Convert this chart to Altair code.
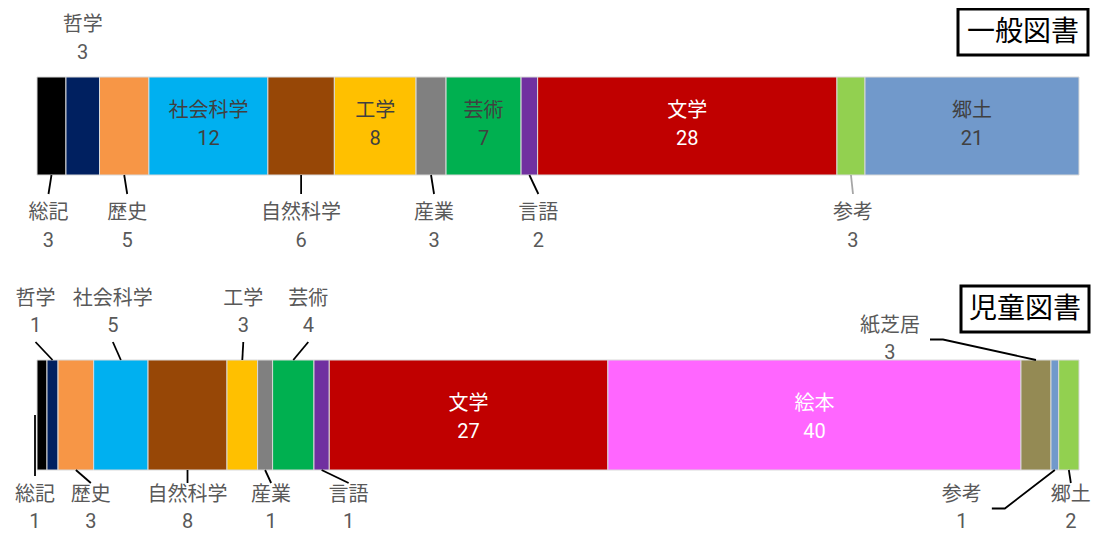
import altair as alt
import pandas as pd

# ---------------- data ----------------
categories_general = ["総記", "哲学", "歴史", "社会科学", "自然科学", "工学", "産業",
                      "芸術", "言語", "文学", "参考", "郷土"]
share_general = [2.78, 3.22, 4.74, 11.42, 6.38, 7.84, 2.88, 7.20, 1.59, 28.73, 2.69, 20.54]
label_general = [3, 3, 5, 12, 6, 8, 3, 7, 2, 28, 3, 21]

categories_children = ["総記", "哲学", "歴史", "社会科学", "自然科学", "工学", "産業",
                       "芸術", "言語", "文学", "絵本", "紙芝居", "参考", "郷土"]
share_children = [0.96, 1.06, 3.42, 5.22, 7.58, 2.94, 1.44, 3.97, 1.47, 26.75, 39.66,
                  2.88, 0.74, 1.95]
label_children = [1, 1, 3, 5, 8, 3, 1, 4, 1, 27, 40, 3, 1, 2]

titles = ["一般図書", "児童図書"]

# ---------------- styles / layout ----------------
colors_general = ["#000000", "#002060", "#F79646", "#00B0F0", "#974706", "#FFC000",
                  "#808080", "#00B050", "#7030A0", "#C00000", "#92D050", "#7199CB"]
colors_children = ["#000000", "#002060", "#F79646", "#00B0F0", "#974706", "#FFC000",
                   "#808080", "#00B050", "#7030A0", "#C00000", "#FF66FF", "#948A54",
                   "#7199CB", "#92D050"]

place_general = ["below", "above", "below", "in", "below", "in", "below", "in",
                 "below", "in", "below", "in"]
dx_general = [-3, 0, 3, 0, 0, 0, 3, 0, 9, 0, 2, 0]
dy_general = [0] * 12
leader_general = ["edge", "none", "edge", "none", "edge", "none", "edge", "none",
                  "edge", "none", "edge", "none"]
linecol_general = ["#000000"] * 10 + ["#A6A6A6", "#000000"]

place_children = ["below", "above", "below", "above", "below", "above", "below",
                  "above", "below", "in", "in", "above", "below", "below"]
dx_children = [-7, -17, 15, -8, 0, 1, 6, 15, 27, 0, 0, -146, -93, 2]
dy_children = [0, 0, 0, 0, 0, 0, 0, 0, 0, 0, 0, 27, 0, 0]
leader_children = ["mid", "edge", "edge", "edge", "edge", "edge", "edge", "edge",
                   "edge", "none", "none", "side", "side", "edge"]
linecol_children = ["#000000"] * 14

light_text = ["文学", "絵本"]

PLOT_W = 1042
PLOT_H = 526
PX = PLOT_W / 100.0  # pixels per percentage unit

rows = [
    dict(title=titles[0], cats=categories_general, share=share_general, labels=label_general,
         colors=colors_general, place=place_general, dx=dx_general, dy=dy_general,
         leader=leader_general, linecol=linecol_general,
         top=77, bottom=175, in_y=111, above_y=25, below_y=213, gap=28, lead=19),
    dict(title=titles[1], cats=categories_children, share=share_children, labels=label_children,
         colors=colors_children, place=place_children, dx=dx_children, dy=dy_children,
         leader=leader_children, linecol=linecol_children,
         top=360, bottom=470, in_y=404, above_y=299, below_y=495, gap=27, lead=12),
]

bars, texts, lines = [], [], []
for r in rows:
    total = sum(r["share"])
    gap = r["gap"]
    acc = 0.0
    for i, c in enumerate(r["cats"]):
        w = r["share"][i] / total * 100
        x0, x1 = acc, acc + w
        acc = x1
        cx = (x0 + x1) / 2
        bars.append(dict(row=r["title"], cat=c, x0=x0, x1=x1, y0=r["top"], y1=r["bottom"],
                         color=r["colors"][i]))
        place = r["place"][i]
        lx = cx + r["dx"][i] / PX
        if place == "in":
            ny = r["in_y"]
            tcol = "#FFFFFF" if c in light_text else "#404040"
            g = 28
        elif place == "above":
            ny = r["above_y"] + r["dy"][i]
            tcol = "#595959"
            g = gap
        else:
            ny = r["below_y"] + r["dy"][i]
            tcol = "#595959"
            g = gap
        texts.append(dict(x=lx, y=ny, t=c, color=tcol, kind="name"))
        texts.append(dict(x=lx, y=ny + g, t=str(r["labels"][i]), color=tcol, kind="num"))

        kind = r["leader"][i]
        lid = r["title"] + c
        lc = r["linecol"][i]
        edge = r["top"] if place == "above" else r["bottom"]
        if kind == "edge":
            end_y = (ny + g + 16) if place == "above" else (ny - r["lead"])
            pts = [(cx, edge), (lx, end_y)]
        elif kind == "mid":
            pts = [(lx, (r["top"] + r["bottom"]) / 2), (lx, ny - 19)]
        elif kind == "side":
            half = len(c) * 10
            my = ny + g / 2
            pts = [(cx, edge), (lx + (half + 23) / PX, my), (lx + (half + 10) / PX, my)]
        else:
            pts = []
        for k, (px_, py_) in enumerate(pts):
            lines.append(dict(id=lid, seq=k, x=px_, y=py_, color=lc))

bars_df = pd.DataFrame(bars)
texts_df = pd.DataFrame(texts)
lines_df = pd.DataFrame(lines)

xs = alt.Scale(domain=[0, 100], nice=False, zero=False)
ys = alt.Scale(domain=[8, 8 + PLOT_H], reverse=True, nice=False, zero=False)
FONT = "Noto Sans CJK JP"
NUM_FONT = "Roboto"

bar_layer = alt.Chart(bars_df).mark_rect(stroke="#D9D9D9", strokeWidth=1).encode(
    x=alt.X("x0:Q", scale=xs, axis=None),
    x2="x1:Q",
    y=alt.Y("y0:Q", scale=ys, axis=None),
    y2="y1:Q",
    color=alt.Color("color:N", scale=None),
)

line_layer = alt.Chart(lines_df).mark_line(strokeWidth=1.8).encode(
    x=alt.X("x:Q", scale=xs, axis=None),
    y=alt.Y("y:Q", scale=ys, axis=None),
    detail="id:N",
    order="seq:Q",
    color=alt.Color("color:N", scale=None),
)

name_layer = alt.Chart(texts_df).transform_filter(
    alt.datum.kind == "name"
).mark_text(font=FONT, fontSize=20, align="center", baseline="middle").encode(
    x=alt.X("x:Q", scale=xs, axis=None),
    y=alt.Y("y:Q", scale=ys, axis=None),
    text="t:N",
    color=alt.Color("color:N", scale=None),
)

num_layer = alt.Chart(texts_df).transform_filter(
    alt.datum.kind == "num"
).mark_text(font=NUM_FONT, fontSize=20, align="center", baseline="middle").encode(
    x=alt.X("x:Q", scale=xs, axis=None),
    y=alt.Y("y:Q", scale=ys, axis=None),
    text="t:N",
    color=alt.Color("color:N", scale=None),
)

title_df = pd.DataFrame(dict(
    t=titles,
    bx0=[921, 924], bx1=[1051, 1052],
    by0=[9, 286], by1=[55, 332],
    tx=[986, 988], ty=[33, 310],
))
title_box = alt.Chart(title_df).mark_rect(fill="white", stroke="black", strokeWidth=3).encode(
    x=alt.X("bx0:Q", scale=alt.Scale(domain=[0, PLOT_W], nice=False, zero=False), axis=None),
    x2="bx1:Q",
    y=alt.Y("by0:Q", scale=ys, axis=None),
    y2="by1:Q",
)
title_text = alt.Chart(title_df).mark_text(
    font=FONT, fontSize=28, align="center", baseline="middle", color="black"
).encode(
    x=alt.X("tx:Q", scale=alt.Scale(domain=[0, PLOT_W], nice=False, zero=False), axis=None),
    y=alt.Y("ty:Q", scale=ys, axis=None),
    text="t:N",
)

boxes = alt.layer(title_box, title_text)

chart = alt.layer(bar_layer, line_layer, name_layer, num_layer, boxes).resolve_scale(
    x="independent"
).properties(
    width=PLOT_W, height=PLOT_H,
    padding={"left": 29, "right": 12, "top": 0, "bottom": 0},
    autosize=alt.AutoSizeParams(type="none"),
    background="white",
).configure_view(stroke=None)

chart.save("out.html", embed_options={"renderer": "svg", "actions": False})
